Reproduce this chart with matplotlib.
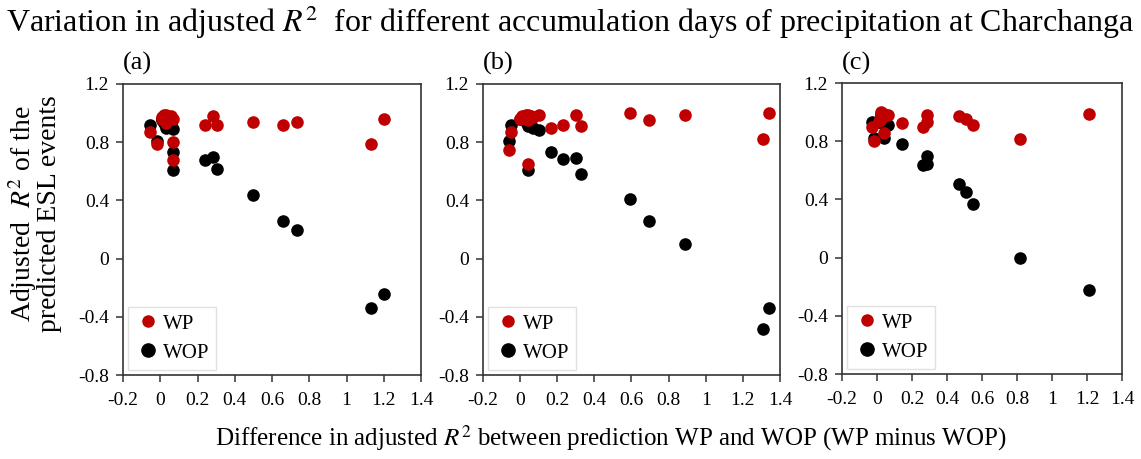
import matplotlib.pyplot as plt
from matplotlib.lines import Line2D
from matplotlib.ticker import FuncFormatter
import numpy as np

plt.rcParams["font.family"] = "serif"
plt.rcParams["font.serif"] = ["Liberation Serif", "DejaVu Serif"]
plt.rcParams["mathtext.fontset"] = "stix"

# adjusted R2 with precipitation (WP) and without precipitation (WOP)
panel_labels = ["(a)", "(b)", "(c)"]

wp_a = [0.867, 0.79, 0.93, 0.96, 0.80, 0.68, 0.92, 0.98, 0.92, 0.936, 0.92, 0.936, 0.79, 0.96,
        0.97, 0.99, 0.98, 0.95, 0.99, 0.97, 0.96, 0.98]
wop_a = [0.92, 0.81, 0.90, 0.89, 0.733, 0.61, 0.68, 0.695, 0.616, 0.44, 0.26, 0.20, -0.34, -0.24,
         0.96, 0.97, 0.95, 0.93, 0.96, 0.93, 0.95, 0.92]

wp_b = [0.745, 0.87, 0.653, 0.99, 0.90, 0.917, 0.99, 0.91, 1.0, 0.95, 0.986, 0.825, 1.0,
        0.97, 0.99, 0.98, 0.95, 0.99, 0.96, 0.98, 0.97]
wop_b = [0.807, 0.917, 0.61, 0.887, 0.733, 0.687, 0.69, 0.58, 0.41, 0.257, 0.10, -0.485, -0.34,
         0.94, 0.96, 0.92, 0.91, 0.95, 0.96, 0.97, 0.90]

wp_c = [0.80, 0.86, 0.90, 0.98, 0.924, 0.897, 0.984, 0.93, 0.972, 0.956, 0.915, 0.814, 0.99,
        0.97, 0.99, 0.96, 0.98, 1.0, 0.95, 0.99, 0.94, 0.99]
wop_c = [0.82, 0.82, 0.93, 0.915, 0.78, 0.634, 0.70, 0.647, 0.503, 0.45, 0.366, -0.005, -0.223,
         0.95, 0.97, 0.94, 0.94, 0.98, 0.93, 0.97, 0.93, 0.95]

panels = [(wp_a, wop_a), (wp_b, wop_b), (wp_c, wop_c)]

x_ticks = [-0.2, 0, 0.2, 0.4, 0.6, 0.8, 1, 1.2, 1.4]
y_ticks = [-0.8, -0.4, 0, 0.4, 0.8, 1.2]

RED = "#C00000"
fig = plt.figure(figsize=(11.41, 4.59), dpi=100)

# axes boxes in figure fractions
boxes = [(0.1078, 0.183, 0.2612, 0.634),
         (0.4233, 0.183, 0.2603, 0.634),
         (0.7380, 0.185, 0.2454, 0.634)]

fmt = FuncFormatter(lambda v, p: f"{v:g}")

for (wp, wop), box, lab in zip(panels, boxes, panel_labels):
    ax = fig.add_axes(box)
    wp = np.array(wp)
    wop = np.array(wop)
    diff = wp - wop
    ax.scatter(diff, wop, s=82, color="black", zorder=3, linewidths=0)
    ax.scatter(diff, wp, s=82, color=RED, zorder=4, linewidths=0)
    ax.set_xlim(-0.2, 1.4)
    ax.set_ylim(-0.8, 1.2)
    ax.set_xticks(x_ticks)
    ax.set_yticks(y_ticks)
    ax.xaxis.set_major_formatter(fmt)
    ax.yaxis.set_major_formatter(fmt)
    ax.tick_params(labelsize=14, length=5, width=1.1, color="#333333", pad=5)
    ax.tick_params(axis="x", pad=7)
    for sp in ax.spines.values():
        sp.set_color("#333333")
        sp.set_linewidth(1.2)

    handles = [Line2D([], [], ls="none", marker="o", ms=8, color=RED),
               Line2D([], [], ls="none", marker="o", ms=9.5, color="black")]
    leg = ax.legend(handles, ["WP", "WOP"], loc="lower left", fontsize=15,
                    frameon=True, fancybox=False, edgecolor="#d9d9d9",
                    borderaxespad=0.25, handletextpad=0.1, handlelength=1.2,
                    labelspacing=0.45, borderpad=0.35)
    leg.get_frame().set_linewidth(1.0)

    fig.text(box[0] + 0.013, 0.862, lab, fontsize=19, ha="center", va="center")

fig.text(0.5, 0.952, "Variation in adjusted $R^2$  for different accumulation days of precipitation at Charchanga",
         fontsize=23, ha="center", va="center")
fig.text(0.535, 0.045, "Difference in adjusted $R^2$ between prediction WP and WOP (WP minus WOP)",
         fontsize=18, ha="center", va="center")
fig.text(0.020, 0.535, "Adjusted  $R^2$ of the", fontsize=20, rotation=90, ha="center", va="center")
fig.text(0.043, 0.535, "predicted ESL events", fontsize=20, rotation=90, ha="center", va="center")

fig.savefig("out.png", dpi=100)
